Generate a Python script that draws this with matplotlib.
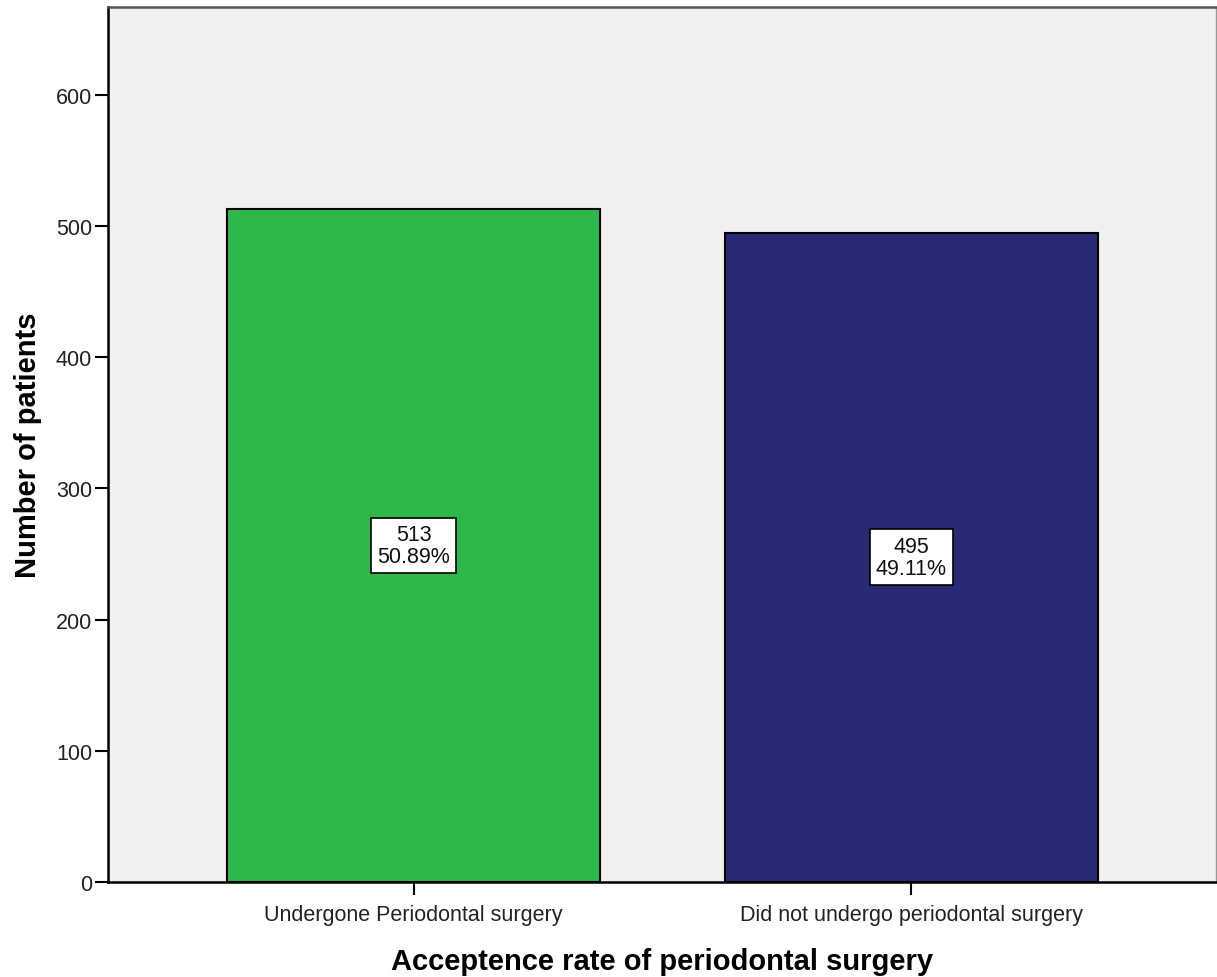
import matplotlib.pyplot as plt
import numpy as np

plt.rcParams['font.family'] = ['Liberation Sans', 'DejaVu Sans']

categories = ["Undergone Periodontal surgery", "Did not undergo periodontal surgery"]
counts = [513, 495]
percents = [50.89, 49.11]
colors = ["#2EB84B", "#292A73"]

fig = plt.figure(figsize=(12.17, 9.78), dpi=100)
ax = fig.add_axes([108 / 1217, 1 - 883 / 978, 1108 / 1217, 875 / 978])
ax.set_facecolor("#F0F0F0")

x = np.arange(len(categories))
bars = ax.bar(x, counts, width=0.75, color=colors, edgecolor="black", linewidth=1.5, zorder=2)

# count / percentage box in the middle of each bar
for xi, c, p in zip(x, counts, percents):
    ax.text(xi, c / 2, f"{c}\n{p:.2f}%", ha="center", va="center", fontsize=15.5,
            linespacing=1.1, color="#111111", zorder=3,
            bbox=dict(boxstyle="square,pad=0.28", facecolor="white", edgecolor="black", linewidth=1.2))

ax.set_xlim(-0.614, 1.612)
ax.set_ylim(0, 667)
ax.set_yticks([0, 100, 200, 300, 400, 500, 600])
ax.set_xticks(x)
ax.set_xticklabels(categories)
ax.tick_params(axis="both", labelsize=15.5, length=9.5, width=1.5, pad=2,
               colors="black", labelcolor="#222222")
ax.tick_params(axis="x", pad=6)

ax.set_ylabel("Number of patients", fontsize=21, fontweight="bold", labelpad=10)
ax.set_xlabel("Acceptence rate of periodontal surgery", fontsize=21, fontweight="bold", labelpad=16)

ax.spines["left"].set_linewidth(1.8)
ax.spines["bottom"].set_linewidth(1.8)
ax.spines["top"].set_linewidth(1.8)
ax.spines["top"].set_color("#555555")
ax.spines["right"].set_linewidth(1.0)
ax.spines["right"].set_color("#999999")

fig.savefig("out.png", dpi=100)
